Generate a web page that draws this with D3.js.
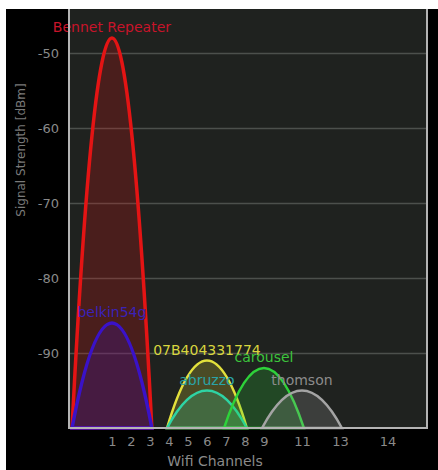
<!DOCTYPE html>
<html>
<head>
<meta charset="utf-8">
<script src="https://cdn.jsdelivr.net/npm/d3@7"></script>
<style>
  body { margin: 0; background: #fff; }
  svg text { font-family: "DejaVu Sans", sans-serif; }
</style>
</head>
<body>
<svg id="drawing_region"></svg>
<script>
// networks seen by the scanner
const names = ["Bennet Repeater", "belkin54g", "07B404331774", "abruzzo", "carousel", "thomson"];
const channels = [1, 1, 6, 6, 9, 11];
const levels = [-48, -86, -91, -95, -92, -95];
const colors = ["#e41414", "#3a12c8", "#e2e03c", "#2ed4a4", "#2ed23a", "#a4a4a4"];
const labelColors = ["#c8142a", "#3a22b8", "#d8d63e", "#2aa4a8", "#3cc43c", "#8c8c8c"];

// axis ticks
const yTicks = [-50, -60, -70, -80, -90];
const xTickChannels = [1, 2, 3, 4, 5, 6, 7, 8, 9, 11, 13, 15.5];
const xTickLabels = ["1", "2", "3", "4", "5", "6", "7", "8", "9", "11", "13", "14"];

const config = {
    width: 438,
    height: 470,
    plot: { left: 69, right: 427, top: 9, bottom: 428 }
};

const svg = d3.select('#drawing_region')
    .attr('width', config.width)
    .attr('height', config.height);

// black screen background
svg.append('rect')
    .attr('x', 6).attr('y', 9)
    .attr('width', config.width - 6).attr('height', config.height - 9)
    .attr('fill', '#000');

const xscale = d3.scaleLinear()
    .domain([-1.26, 17.58])
    .range([config.plot.left, config.plot.right]);

const yscale = d3.scaleLinear()
    .domain([-100, -44.13])
    .range([config.plot.bottom, config.plot.top]);

// plot area
svg.append('rect')
    .attr('x', config.plot.left).attr('y', config.plot.top)
    .attr('width', config.plot.right - config.plot.left)
    .attr('height', config.plot.bottom - config.plot.top)
    .attr('fill', '#1f221f');

// grid + y ticks
const yaxis = d3.axisLeft(yscale)
    .tickValues(yTicks)
    .tickSize(-(config.plot.right - config.plot.left))
    .tickPadding(10)
    .tickFormat(d => String(d));

const yaxis_group = svg.append('g')
    .attr('transform', `translate(${config.plot.left}, 0)`)
    .call(yaxis);
yaxis_group.select('.domain').remove();
yaxis_group.selectAll('line').attr('stroke', '#4c504c').attr('stroke-width', 1.5);
yaxis_group.selectAll('text')
    .attr('fill', '#8a8a8a')
    .attr('font-size', 13);

// curves
const halfWidth = 2.1;
const curve = (ch, lvl) => {
    const x0 = xscale(ch - halfWidth), x1 = xscale(ch + halfWidth);
    const yb = yscale(-100);
    const cy = yb - 2 * (yb - yscale(lvl));
    return `M${x0},${yb} Q${xscale(ch)},${cy} ${x1},${yb} Z`;
};

const nets = names.map((n, i) => ({ name: n, ch: channels[i], lvl: levels[i], color: colors[i], lc: labelColors[i] }));

svg.append('g').selectAll('path')
    .data(nets).enter()
    .append('path')
    .attr('d', d => curve(d.ch, d.lvl))
    .attr('fill', d => d.color)
    .attr('fill-opacity', 0.22)
    .attr('stroke', d => d.color)
    .attr('stroke-width', (d, i) => i < 2 ? 3.5 : 2.5);

svg.append('g').selectAll('text')
    .data(nets).enter()
    .append('text')
    .attr('x', d => xscale(d.ch))
    .attr('y', d => yscale(d.lvl) - 6)
    .attr('text-anchor', 'middle')
    .attr('font-size', 14)
    .attr('fill', d => d.lc)
    .text(d => d.name);

// frame
const frame = svg.append('g').attr('stroke', '#b4b4b4').attr('stroke-width', 2).attr('fill', 'none');
frame.append('path')
    .attr('d', `M${config.plot.left},${config.plot.top} V${config.plot.bottom} H${config.plot.right} V${config.plot.top}`);

// x ticks
const xaxis = d3.axisBottom(xscale)
    .tickValues(xTickChannels)
    .tickSize(0)
    .tickPadding(9)
    .tickFormat((d, i) => xTickLabels[i]);

const xaxis_group = svg.append('g')
    .attr('transform', `translate(0, ${config.plot.bottom})`)
    .call(xaxis);
xaxis_group.select('.domain').remove();
xaxis_group.selectAll('text')
    .attr('fill', '#8a8a8a')
    .attr('font-size', 13);

// axis titles
svg.append('text')
    .attr('x', 215).attr('y', 466)
    .attr('text-anchor', 'middle')
    .attr('font-size', 14)
    .attr('fill', '#8a8a8a')
    .text('Wifi Channels');

svg.append('text')
    .attr('transform', 'translate(25, 150) rotate(-90)')
    .attr('text-anchor', 'middle')
    .attr('font-size', 12)
    .attr('fill', '#7a7a7a')
    .text('Signal Strength [dBm]');
</script>
</body>
</html>
